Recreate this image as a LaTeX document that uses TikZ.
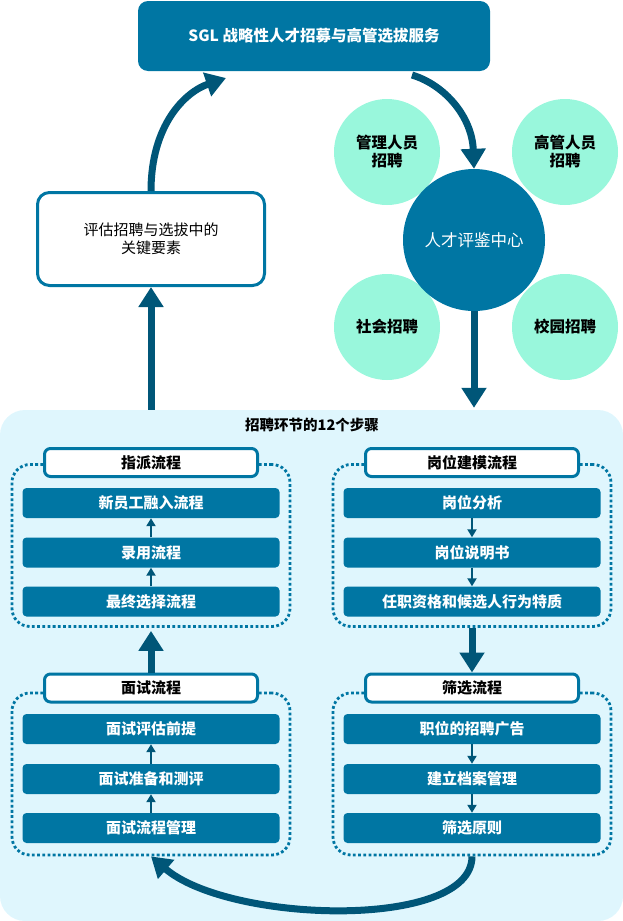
\documentclass[tikz,border=0pt]{standalone}
\usepackage{fontspec}
\setmainfont{Noto Sans CJK SC}
\usetikzlibrary{arrows.meta}

\definecolor{sglblue}{RGB}{0,118,163}
\definecolor{sgldark}{RGB}{0,86,120}
\definecolor{sglmint}{RGB}{153,247,220}
\definecolor{sglpanel}{RGB}{223,246,253}

\begin{document}
\begin{tikzpicture}[x=1pt,y=-1pt,
    bigarrow/.style={draw=sgldark, line width=7pt, -{Triangle[length=20pt,width=24pt]}},
    smallarrow/.style={draw=sgldark, line width=2.5pt, -{Triangle[length=8pt,width=9pt]}}]

      \useasboundingbox (0,0) rectangle (623,921);

      % panel with the twelve steps
      \node[fill=sglpanel, rounded corners=25pt, inner sep=0pt,
            minimum width=623pt, minimum height=511pt] (steps) at (311.5,665.5) {};
      \node[font=\bfseries\fontsize{14.5}{17}\selectfont] (stepsttl) at (312,425) {招聘环节的12个步骤};

      \begin{scope}[every node/.style={inner sep=0pt, align=center}]
        \node[fill=sglblue, rounded corners=10pt, minimum width=352pt, minimum height=70pt,
              text=white, font=\bfseries\fontsize{15.5}{18}\selectfont] (svc) at (314,36) {SGL 战略性人才招募与高管选拔服务};
        \node[draw=sglblue, line width=3pt, fill=white, rounded corners=12pt,
              minimum width=227pt, minimum height=93pt,
              font=\fontsize{15}{18}\selectfont] (eval) at (151,239) {评估招聘与选拔中的\\关键要素};
      \end{scope}

      \begin{scope}[every node/.style={circle, fill=sglmint, minimum size=106pt, inner sep=0pt,
                    align=center, font=\bfseries\fontsize{15.5}{18}\selectfont}]
        \node (mgr)    at (387,152) {管理人员\\招聘};
        \node (exec)   at (565,152) {高管人员\\招聘};
        \node (social) at (387,327) {社会招聘};
        \node (campus) at (565,327) {校园招聘};
      \end{scope}
      \node[circle, fill=sglblue, minimum size=142pt, inner sep=0pt, text=white,
            font=\fontsize{16.5}{19}\selectfont] (center) at (474,240) {人才评鉴中心};

      % dotted frames
      \begin{scope}[every node/.style={draw=sglblue, line width=2.8pt, dash pattern=on 2.8pt off 2.4pt,
                    rounded corners=18pt, minimum width=278pt, minimum height=162pt}]
        \node (assign) at (151,545.5) {};
        \node (model)  at (472,545.5) {};
        \node (itv)    at (151,774) {};
        \node (scr)    at (472,774) {};
      \end{scope}

      % frame titles
      \begin{scope}[every node/.style={draw=sglblue, line width=3pt, fill=white, rounded corners=6pt,
                    minimum width=213pt, minimum height=28pt, inner sep=0pt,
                    font=\bfseries\fontsize{15}{18}\selectfont}]
        \node (assignttl) at (151,462.5) {指派流程};
        \node (modelttl)  at (472,462.5) {岗位建模流程};
        \node (itvttl)    at (151,688) {面试流程};
        \node (scrttl)    at (472,688) {筛选流程};
      \end{scope}

      % steps
      \begin{scope}[every node/.style={fill=sglblue, rounded corners=4pt, minimum width=257pt,
                    minimum height=30pt, inner sep=0pt, text=white,
                    font=\bfseries\fontsize{15}{18}\selectfont}]
        \node (onboard) at (151,503)   {新员工融入流程};
        \node (hire)    at (151,552.5) {录用流程};
        \node (final)   at (151,601.5) {最终选择流程};
        \node (jobana)  at (472,503)   {岗位分析};
        \node (jobdesc) at (472,552.5) {岗位说明书};
        \node (qual)    at (472,601.5) {任职资格和候选人行为特质};
        \node (pre)     at (151,729)   {面试评估前提};
        \node (prep)    at (151,779)   {面试准备和测评};
        \node (mgmt)    at (151,828)   {面试流程管理};
        \node (ad)      at (472,729)   {职位的招聘广告};
        \node (file)    at (472,779)   {建立档案管理};
        \node (rule)    at (472,828)   {筛选原则};
      \end{scope}

      \begin{scope}[every edge/.style={smallarrow}]
        \path (hire)    edge (onboard);
        \path (final)   edge (hire);
        \path (jobana)  edge (jobdesc);
        \path (jobdesc) edge (qual);
        \path (prep)    edge (pre);
        \path (mgmt)    edge (prep);
        \path (ad)      edge (file);
        \path (file)    edge (rule);
      \end{scope}

      \coordinate (svcin)  at (226,78);
      \coordinate (svcout) at (412,75);

      \begin{scope}[every edge/.style={bigarrow}]
        \path (itvttl) edge[shorten >=3pt] (assign);
        \path (model)  edge (scrttl);
        \path (center) edge[shorten >=2pt] (center |- steps.north);
        \path (eval |- steps.north) edge (eval);
      \end{scope}
      \draw[bigarrow] (eval.north) .. controls +(0,-66) and +(-41,14) .. (svcin);
      \draw[bigarrow] (svcout) .. controls +(33,10) and +(-2,-52) .. (center.north);
      \draw[bigarrow] (scr.south) .. controls +(0,74) and +(78,67) .. (itv.south);

    \end{tikzpicture}
\end{document}
